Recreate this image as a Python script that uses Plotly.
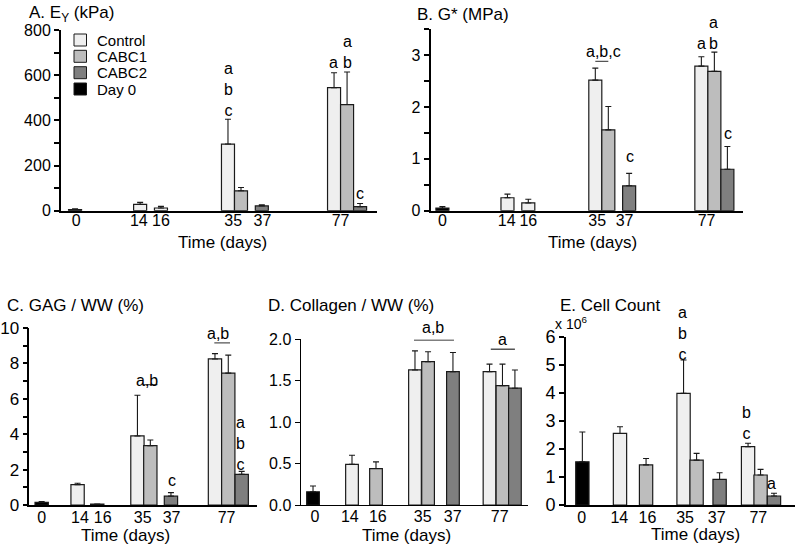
import plotly.graph_objects as go

FONT = "Liberation Sans"
W, H = 800, 551

# ---------------- data ----------------
day_labels = ["0", "14", "16", "35", "37", "77"]
series_names = ["Control", "CABC1", "CABC2", "Day 0"]
# Control measured at days 14, 35, 77; CABC1 at 16, 35, 77; CABC2 at 37, 77; Day 0 at 0

# A. Young's modulus (kPa)
ey_day0, ey_day0_err = [5], [3]
ey_control, ey_control_err = [28, 295, 545], [9, 110, 66]
ey_cabc1, ey_cabc1_err = [12, 88, 470], [7, 15, 144]
ey_cabc2, ey_cabc2_err = [21, 18], [5, 14]

# B. G* (MPa)
g_day0, g_day0_err = [0.05], [0.03]
g_control, g_control_err = [0.25, 2.52, 2.79], [0.07, 0.23, 0.18]
g_cabc1, g_cabc1_err = [0.15, 1.56, 2.69], [0.07, 0.45, 0.37]
g_cabc2, g_cabc2_err = [0.48, 0.80], [0.24, 0.44]

# C. GAG / WW (%)
gag_day0, gag_day0_err = [0.15], [0.05]
gag_control, gag_control_err = [1.15, 3.9, 8.25], [0.08, 2.3, 0.3]
gag_cabc1, gag_cabc1_err = [0.05, 3.35, 7.45], [0.01, 0.32, 1.02]
gag_cabc2, gag_cabc2_err = [0.5, 1.73], [0.2, 0.17]

# D. Collagen / WW (%)
col_day0, col_day0_err = [0.16], [0.07]
col_control, col_control_err = [0.49, 1.63, 1.61], [0.11, 0.23, 0.09]
col_cabc1, col_cabc1_err = [0.44, 1.73, 1.44], [0.08, 0.12, 0.26]
col_cabc2, col_cabc2_err = [1.61, 1.41], [0.23, 0.22]

# E. Cell count (x 10^6)
cell_day0, cell_day0_err = [1.54], [1.06]
cell_control, cell_control_err = [2.55, 3.98, 2.08], [0.24, 1.19, 0.12]
cell_cabc1, cell_cabc1_err = [1.43, 1.60, 1.07], [0.23, 0.24, 0.20]
cell_cabc2, cell_cabc2_err = [0.91, 0.32], [0.24, 0.10]

# ---------------- styling / layout ----------------
COLORS = {"Control": "#efefef", "CABC1": "#bdbdbd", "CABC2": "#7f7f7f", "Day 0": "#000000"}
EDGE = "#1a1a1a"


def px(x):
    return x / W


def py(y):
    return 1 - y / H


panels = [
    dict(name="A", data=(ey_day0, ey_day0_err, ey_control, ey_control_err, ey_cabc1, ey_cabc1_err, ey_cabc2, ey_cabc2_err),
         pos=dict(d0=[0], c=[5, 11.75, 19.9], k1=[6.6, 12.75, 20.9], k2=[14.35, 21.9]),
         k1_16_color="Control",
         xdom=[px(61), px(377)], ydom=[py(210.7), py(30)], xr=[-1.08, 23.2], yr=[0, 800],
         tickx=[0.08, 4.9, 6.6, 12.15, 14.4, 20.4],
         ydt=200, yminor=100, yfmt="", yfs=16, xfs=16, lw=2, so=-6),
    dict(name="B", data=(g_day0, g_day0_err, g_control, g_control_err, g_cabc1, g_cabc1_err, g_cabc2, g_cabc2_err),
         pos=dict(d0=[0], c=[5, 11.75, 19.9], k1=[6.6, 12.75, 20.9], k2=[14.35, 21.9]),
         k1_16_color="Control",
         xdom=[px(430.7), px(743)], ydom=[py(210.7), py(29.3)], xr=[-0.9, 23.1], yr=[0, 3.5],
         tickx=[0, 4.94, 6.6, 11.9, 14.0, 20.3],
         ydt=1, yminor=0.5, yfmt="", yfs=16, xfs=16, lw=2, so=-6),
    dict(name="C", data=(gag_day0, gag_day0_err, gag_control, gag_control_err, gag_cabc1, gag_cabc1_err, gag_cabc2, gag_cabc2_err),
         pos=dict(d0=[0], c=[2.7, 7.2, 13.03], k1=[4.18, 8.17, 14.03], k2=[9.72, 15.04]),
         k1_16_color="Control",
         xdom=[px(29.3), px(257)], ydom=[py(505), py(328)], xr=[-0.93, 16.19], yr=[0, 10],
         tickx=[0, 2.88, 4.59, 7.59, 9.77, 13.9],
         ydt=2, yminor=1, yfmt="", yfs=17, xfs=16, lw=1.6, so=-3),
    dict(name="D", data=(col_day0, col_day0_err, col_control, col_control_err, col_cabc1, col_cabc1_err, col_cabc2, col_cabc2_err),
         pos=dict(d0=[0], c=[3.07, 8.03, 13.9], k1=[4.96, 9.06, 14.92], k2=[11.02, 15.9]),
         k1_16_color="CABC1",
         xdom=[px(300.7), px(528)], ydom=[py(505), py(339.3)], xr=[-0.97, 16.93], yr=[0, 2.0],
         tickx=[0.16, 2.9, 5.1, 8.64, 11.0, 14.7],
         ydt=0.5, yminor=None, yfmt=".1f", yfs=16, xfs=16, lw=1.3, so=-3),
    dict(name="E", data=(cell_day0, cell_day0_err, cell_control, cell_control_err, cell_cabc1, cell_cabc1_err, cell_cabc2, cell_cabc2_err),
         pos=dict(d0=[0], c=[2.83, 7.61, 12.46], k1=[4.79, 8.59, 13.4], k2=[10.32, 14.41]),
         k1_16_color="CABC1",
         xdom=[px(566), px(795)], ydom=[py(505), py(336.7)], xr=[-1.23, 15.99], yr=[0, 6],
         tickx=[-0.05, 2.78, 4.89, 7.72, 10.1, 13.23],
         ydt=1, yminor=None, yfmt="", yfs=18, xfs=16, lw=1.6, so=-3),
]

fig = go.Figure()


def err(arr):
    return dict(type="data", array=arr, arrayminus=[0] * len(arr), symmetric=False,
                thickness=1.1, width=3, color=EDGE)


layout = dict(width=W, height=H, margin=dict(l=0, r=0, t=0, b=0, autoexpand=False),
              paper_bgcolor="white", plot_bgcolor="white", barmode="overlay",
              showlegend=False, font=dict(family=FONT, color="black", size=16))

for i, p in enumerate(panels):
    n = "" if i == 0 else str(i + 1)
    xa, ya = "x" + n, "y" + n
    d0, d0e, c, ce, k1, k1e, k2, k2e = p["data"]
    k1_colors = [COLORS[p["k1_16_color"]], COLORS["CABC1"], COLORS["CABC1"]]
    traces = [
        ("Control", p["pos"]["c"], c, ce, COLORS["Control"]),
        ("CABC1", p["pos"]["k1"], k1, k1e, k1_colors),
        ("CABC2", p["pos"]["k2"], k2, k2e, COLORS["CABC2"]),
        ("Day 0", p["pos"]["d0"], d0, d0e, COLORS["Day 0"]),
    ]
    for name, xs, ys, es, col in traces:
        fig.add_trace(go.Bar(x=xs, y=ys, width=1.0, name=name, xaxis=xa, yaxis=ya,
                             marker=dict(color=col, line=dict(color=EDGE, width=1.2)),
                             error_y=err(es), showlegend=False, hoverinfo="x+y"))
    key = "" if i == 0 else str(i + 1)
    layout["xaxis" + key] = dict(domain=p["xdom"], range=p["xr"], anchor=ya,
                                 showline=True, linecolor="black", linewidth=p["lw"],
                                 showgrid=False, zeroline=False, ticks="",
                                 tickmode="array", tickvals=p["tickx"], ticktext=day_labels,
                                 ticklabelstandoff=p["so"],
                                 tickfont=dict(family=FONT, size=p["xfs"], color="black"))
    yax = dict(domain=p["ydom"], range=p["yr"], anchor=xa,
               showline=True, linecolor="black", linewidth=p["lw"],
               showgrid=False, zeroline=False, ticks="outside",
               ticklen=5, tickwidth=p["lw"], tickcolor="black",
               tickmode="linear", tick0=0, dtick=p["ydt"], tickformat=p["yfmt"],
               tickfont=dict(family=FONT, size=p["yfs"], color="black"))
    if p["yminor"]:
        yax["minor"] = dict(dtick=p["yminor"], tick0=0, ticks="outside", ticklen=5,
                            tickwidth=p["lw"], tickcolor="black", showgrid=False)
    layout["yaxis" + key] = yax

fig.update_layout(**layout)

ann = []


def txt(text, x, y, xref="paper", yref="paper", size=16, xanchor="center", yanchor="middle"):
    ann.append(dict(text=text, x=x, y=y, xref=xref, yref=yref, showarrow=False,
                    font=dict(family=FONT, size=size, color="black"),
                    xanchor=xanchor, yanchor=yanchor))


# panel titles
txt("A. E<sub>Y</sub> (kPa)", px(27), py(14), size=17, xanchor="left")
txt("B. G* (MPa)", px(415), py(14), size=17, xanchor="left")
txt("C. GAG / WW (%)", px(5), py(305), size=17, xanchor="left")
txt("D. Collagen / WW (%)", px(266), py(305), size=17, xanchor="left")
txt("E. Cell Count", px(558), py(305), size=17, xanchor="left")
txt("x 10<sup>6</sup>", px(553), py(323), size=14, xanchor="left")

# axis titles
for (x, y) in [(222, 243), (592, 243), (125, 535), (406.7, 535), (695, 534)]:
    txt("Time (days)", px(x), py(y), size=17)

# significance letters (y given as fraction of each panel's value range via "domain" refs)
def sig(text, x, value, k):
    p = panels[k - 1]
    n = "" if k == 1 else str(k)
    txt(text, x, value / p["yr"][1], "x" + n, "y" + n + " domain")

sig("a<br>b<br>c", 11.77, 538, 1)
sig("a", 19.85, 657, 1)
sig("a<br>b", 20.9, 702, 1)
sig("c", 21.9, 78, 1)

sig("a,b,c", 12.37, 3.07, 2)
sig("c", 14.42, 1.04, 2)
sig("a", 19.88, 3.23, 2)
sig("a<br>b", 20.85, 3.42, 2)
sig("c", 21.98, 1.49, 2)

sig("a,b", 7.92, 7.05, 3)
sig("c", 9.82, 1.4, 3)
sig("a,b", 13.28, 9.68, 3)
sig("a<br>b<br>c", 14.96, 3.45, 3)

sig("a,b", 9.45, 2.14, 4)
sig("a", 14.96, 2.0, 4)

sig("a<br>b<br>c", 7.5, 6.13, 5)
sig("b<br>c", 12.38, 2.94, 5)
sig("a", 14.26, 0.78, 5)

# legend (drawn in panel A)
shapes = []
legend_rows = [40, 56.3, 72.7, 89]
for name, yy in zip(series_names, legend_rows):
    shapes.append(dict(type="rect", xref="paper", yref="paper",
                       x0=px(74), x1=px(86.5), y0=py(yy + 6), y1=py(yy - 6),
                       fillcolor=COLORS[name], line=dict(color=EDGE, width=1)))
    txt(name, px(95), py(yy), size=15, xanchor="left")

# underline bars
def hline(x0, x1, y, xr, yr):
    shapes.append(dict(type="line", xref=xr, yref=yr, x0=x0, x1=x1, y0=y, y1=y,
                       line=dict(color="#555555", width=1.3)))

hline(11.75, 12.75, 2.88, "x2", "y2")
hline(7.6, 8.7, 6.8, "x3", "y3")
hline(12.98, 14.16, 9.16, "x3", "y3")
hline(7.95, 11.1, 1.99, "x4", "y4")
hline(14.0, 15.9, 1.88, "x4", "y4")

fig.update_layout(annotations=ann, shapes=shapes)
fig.write_html("out.html", config={"displayModeBar": False},
               post_script="document.body.style.margin='0';document.body.style.overflow='hidden';")
